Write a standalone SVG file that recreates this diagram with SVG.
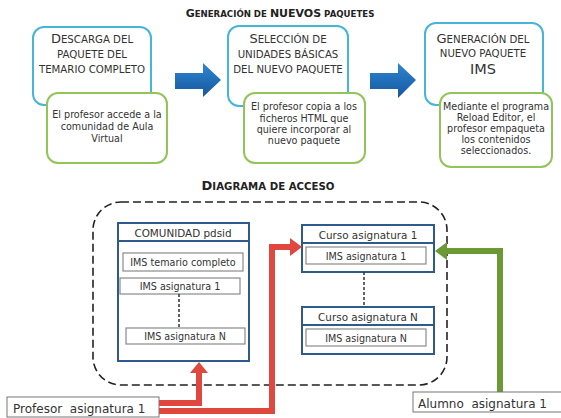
<svg xmlns="http://www.w3.org/2000/svg" width="561" height="418" viewBox="0 0 561 418">
<style>
text{font-family:"DejaVu Sans","Verdana",sans-serif;fill:#333}
.t1{font-size:11px;text-anchor:middle;fill:#222;font-weight:bold}
.t1 .s{font-size:8.6px}
.t2{font-size:13px;text-anchor:middle;fill:#222;font-weight:bold}
.t2 .s{font-size:10.2px}
.hd{font-size:10.2px;text-anchor:middle}
.hd .b{font-size:13px}
.gt{font-size:9.6px;text-anchor:middle}
.bb{fill:#fff;stroke:#45b6d8;stroke-width:2}
.gb{fill:#fff;stroke:#92c45a;stroke-width:2}
.nb{fill:#fff;stroke:#2f5a8c;stroke-width:2}
.ib{fill:#fff;stroke:#8a8a8a;stroke-width:1.2}
.lt{font-size:10.4px;text-anchor:middle}
.it{font-size:9.6px;text-anchor:middle}
.red{fill:none;stroke:#e0483f;stroke-width:6}
.grn{fill:none;stroke:#6b9a35;stroke-width:6}
</style>
<defs>
<linearGradient id="ag" x1="0" y1="0" x2="0" y2="1">
<stop offset="0" stop-color="#2e86d0"/>
<stop offset="1" stop-color="#1656a0"/>
</linearGradient>
</defs>
<rect width="561" height="418" fill="#fff"/>
<text class="t1" x="280" y="17">G<tspan class="s">ENERACIÓN DE </tspan>NUEVOS<tspan class="s"> PAQUETES</tspan></text>

<g id="flow-arrows">
<polygon points="175,73 203,73 203,63 221,80 203,97 203,89 175,89" fill="url(#ag)"/>
<polygon points="370,73 398,73 398,63 416,80 398,98 398,89 370,89" fill="url(#ag)"/>
</g>

<g id="step1">
<rect class="bb" x="33" y="27" width="118" height="78" rx="11"/>
<text class="hd" x="92" y="43"><tspan class="b">D</tspan>ESCARGA DEL</text>
<text class="hd" x="92" y="58">PAQUETE DEL</text>
<text class="hd" x="92" y="73">TEMARIO COMPLETO</text>
<rect class="gb" x="47" y="93" width="120" height="70" rx="11"/>
<text class="gt" x="107" y="118">El profesor accede a la</text>
<text class="gt" x="107" y="130">comunidad de Aula</text>
<text class="gt" x="107" y="142">Virtual</text>
</g>

<g id="step2">
<rect class="bb" x="228" y="26" width="120" height="80" rx="11"/>
<text class="hd" x="288" y="43"><tspan class="b">S</tspan>ELECCIÓN DE</text>
<text class="hd" x="288" y="58">UNIDADES BÁSICAS</text>
<text class="hd" x="288" y="73">DEL NUEVO PAQUETE</text>
<rect class="gb" x="244" y="93" width="121" height="70" rx="11"/>
<text class="gt" x="304" y="110">El profesor copia a los</text>
<text class="gt" x="304" y="122">ficheros HTML que</text>
<text class="gt" x="304" y="133">quiere incorporar al</text>
<text class="gt" x="304" y="144">nuevo paquete</text>
</g>

<g id="step3">
<rect class="bb" x="425" y="23" width="118" height="82" rx="11"/>
<text class="hd" x="483" y="43"><tspan class="b">G</tspan>ENERACIÓN DEL</text>
<text class="hd" x="483" y="57">NUEVO PAQUETE</text>
<text class="hd" x="483" y="74" style="font-size:14.5px">IMS</text>
<rect class="gb" x="440" y="93" width="112" height="74" rx="11"/>
<text class="gt" x="496" y="110">Mediante el programa</text>
<text class="gt" x="496" y="121">Reload Editor, el</text>
<text class="gt" x="496" y="132">profesor empaqueta</text>
<text class="gt" x="496" y="143">los contenidos</text>
<text class="gt" x="496" y="154">seleccionados.</text>
</g>

<text class="t2" x="268" y="190">D<tspan class="s">IAGRAMA DE ACCESO</tspan></text>

<rect id="frame" x="93" y="202" width="354" height="183" rx="28" fill="none" stroke="#222" stroke-width="1.6" stroke-dasharray="8,4"/>

<g id="comunidad">
<rect class="nb" x="118" y="223" width="131" height="138"/>
<line x1="118" y1="241" x2="249" y2="241" stroke="#2f5a8c" stroke-width="2"/>
<text class="lt" x="183" y="237">COMUNIDAD pdsid</text>
<rect class="ib" x="123" y="253" width="120" height="18"/>
<text class="it" x="183" y="266">IMS temario completo</text>
<rect class="ib" x="120" y="278" width="120" height="16"/>
<text class="it" x="180" y="290">IMS asignatura 1</text>
<line x1="179" y1="294" x2="179" y2="328" stroke="#333" stroke-width="1.5" stroke-dasharray="3,2"/>
<rect class="ib" x="126" y="328" width="119" height="16"/>
<text class="it" x="185" y="340">IMS asignatura N</text>
</g>

<g id="curso1">
<rect class="nb" x="302" y="225" width="132" height="47"/>
<line x1="302" y1="243" x2="434" y2="243" stroke="#2f5a8c" stroke-width="2"/>
<text class="lt" x="368" y="239">Curso asignatura 1</text>
<rect class="ib" x="306" y="247" width="120" height="17"/>
<text class="it" x="366" y="260">IMS asignatura 1</text>
</g>
<line x1="364" y1="272" x2="364" y2="307" stroke="#333" stroke-width="1.5" stroke-dasharray="3,2"/>
<g id="cursoN">
<rect class="nb" x="302" y="307" width="132" height="47"/>
<line x1="302" y1="325" x2="434" y2="325" stroke="#2f5a8c" stroke-width="2"/>
<text class="lt" x="368" y="321">Curso asignatura N</text>
<rect class="ib" x="306" y="329" width="120" height="17"/>
<text class="it" x="366" y="342">IMS asignatura N</text>
</g>

<g id="connectors">
<polyline class="red" points="159,403 199,403 199,372"/>
<polygon points="190,373 199,362 208,373" fill="#e0483f"/>
<polyline class="red" points="159,411 272,411 272,247 291,247"/>
<polygon points="290,238 302,247 290,256" fill="#e0483f"/>
<polyline class="grn" points="500,392 500,251 446,251"/>
<polygon points="447,242 435,251 447,260" fill="#6b9a35"/>
</g>

<g id="profesor">
<rect x="7" y="397" width="152" height="20" fill="#fff" stroke="#777" stroke-width="1"/>
<text x="13" y="413" style="font-size:12px;white-space:pre" xml:space="preserve">Profesor  asignatura 1</text>
</g>
<g id="alumno">
<rect x="413" y="392" width="150" height="20" fill="#fff" stroke="#777" stroke-width="1"/>
<text x="418" y="408" style="font-size:12px;white-space:pre" xml:space="preserve">Alumno  asignatura 1</text>
</g>
</svg>
